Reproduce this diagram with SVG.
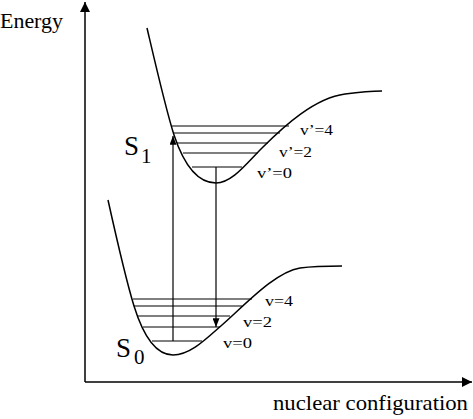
<svg xmlns="http://www.w3.org/2000/svg" width="473" height="419" viewBox="0 0 473 419">
<defs>
<marker id="ah" viewBox="0 0 10 10" refX="10" refY="5" markerWidth="10" markerHeight="10" markerUnits="userSpaceOnUse" orient="auto">
<path d="M0,0 L10,5 L0,10 Z" fill="#000"/>
</marker>
<marker id="ahs" viewBox="0 0 10 8" refX="10" refY="4" markerWidth="10" markerHeight="7" markerUnits="userSpaceOnUse" orient="auto">
<path d="M0,0 L10,4 L0,8 Z" fill="#000"/>
</marker>
</defs>
<style>
.ln{stroke:#000;stroke-width:1.5;fill:none}
.lv{stroke:#000;stroke-width:1.2;fill:none}
.t{fill:#000}
</style>
<rect width="473" height="419" fill="#fff"/>
<g id="axes">
<path class="ln" d="M85,382 L85,2" marker-end="url(#ah)"/>
<path class="ln" d="M85,382 L472,382" marker-end="url(#ah)"/>
<text class="t" font-family="Liberation Serif, DejaVu Serif, serif" x="0" y="28" font-size="20" textLength="63" lengthAdjust="spacingAndGlyphs">Energy</text>
<text class="t" font-family="Liberation Serif, DejaVu Serif, serif" x="273" y="410" font-size="22" textLength="195" lengthAdjust="spacingAndGlyphs">nuclear configuration</text>
</g>
<g id="S1">
<path class="ln" d="M147,28 C158,75 166,110 174,135 C184,165 198,183 216,183 C232,183 246,164 262,148 C285,125 315,98 345,94 C360,92 372,91 382,91"/>
<path class="lv" d="M172,126H289 M173,133H280 M177,143H268 M183,153H258 M192,167H242"/>
<text class="t" font-family="Liberation Serif, DejaVu Serif, serif" x="124" y="155" font-size="28" textLength="15" lengthAdjust="spacingAndGlyphs">S</text>
<text class="t" font-family="Liberation Serif, DejaVu Serif, serif" x="141" y="163" font-size="21">1</text>
<text class="t" font-family="Liberation Serif, DejaVu Serif, serif" x="300" y="135" font-size="14" textLength="33" lengthAdjust="spacingAndGlyphs">v’=4</text>
<text class="t" font-family="Liberation Serif, DejaVu Serif, serif" x="279" y="157" font-size="14" textLength="33" lengthAdjust="spacingAndGlyphs">v’=2</text>
<text class="t" font-family="Liberation Serif, DejaVu Serif, serif" x="257" y="178" font-size="14" textLength="35" lengthAdjust="spacingAndGlyphs">v’=0</text>
</g>
<g id="S0">
<path class="ln" d="M108,200 C118,245 126,280 134,306 C143,335 155,355 173,355 C190,355 205,340 222,325 C245,305 275,272 300,268 C315,266 330,266 342,266"/>
<path class="lv" d="M133,299H252 M134,306H242 M137,316H230 M143,327H220 M152,341H202"/>
<text class="t" font-family="Liberation Serif, DejaVu Serif, serif" x="116" y="357" font-size="28" textLength="15" lengthAdjust="spacingAndGlyphs">S</text>
<text class="t" font-family="Liberation Serif, DejaVu Serif, serif" x="134" y="364" font-size="21">0</text>
<text class="t" font-family="Liberation Serif, DejaVu Serif, serif" x="265" y="306" font-size="14" textLength="28" lengthAdjust="spacingAndGlyphs">v=4</text>
<text class="t" font-family="Liberation Serif, DejaVu Serif, serif" x="243" y="327" font-size="14" textLength="29" lengthAdjust="spacingAndGlyphs">v=2</text>
<text class="t" font-family="Liberation Serif, DejaVu Serif, serif" x="223" y="348" font-size="14" textLength="29" lengthAdjust="spacingAndGlyphs">v=0</text>
</g>
<g id="connectors">
<path class="lv" d="M173,341 L173,136" marker-end="url(#ahs)"/>
<path class="lv" d="M216,167 L216,327" marker-end="url(#ahs)"/>
</g>
</svg>
